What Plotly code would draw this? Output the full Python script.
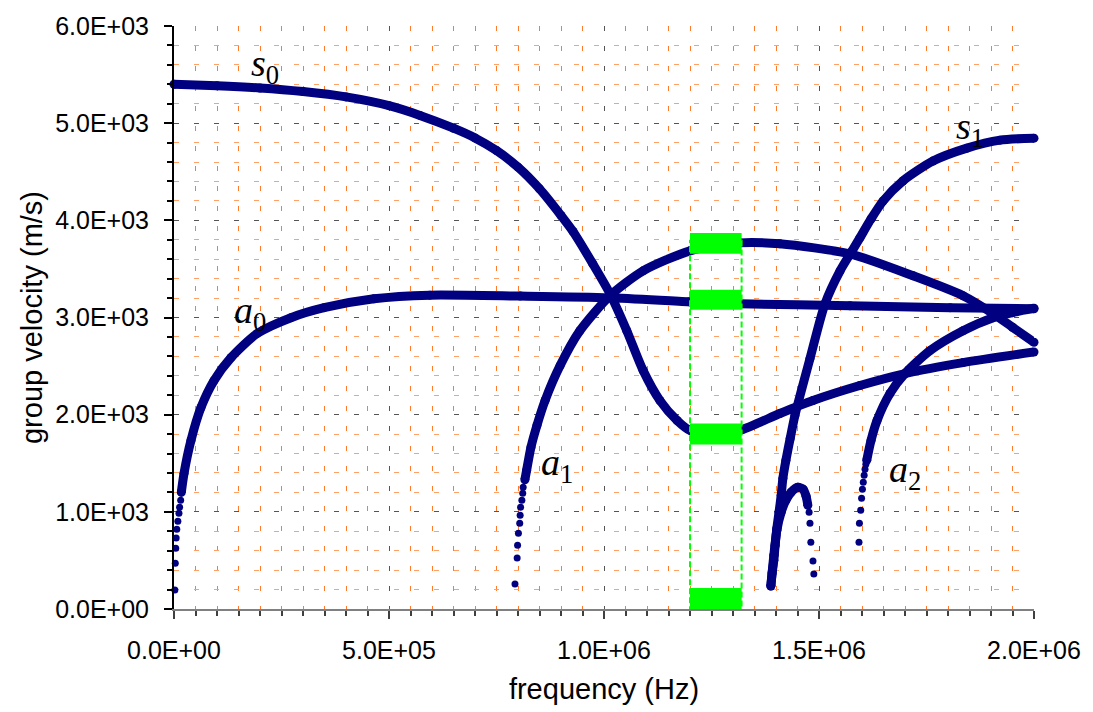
import plotly.graph_objects as go

# ---------------- data (frequency in Hz, group velocity in m/s) ----------------
s0_f = [0, 1.0e5, 2.0e5, 3.0e5, 4.0e5, 5.0e5, 5.72e5, 6.5e5, 7.0e5, 7.5e5, 8.0e5,
        8.5e5, 9.0e5, 9.28e5, 9.74e5, 1.014e6, 1.053e6, 1.091e6, 1.130e6, 1.170e6,
        1.200e6, 1.258e6, 1.316e6, 1.409e6, 1.486e6, 1.595e6, 1.700e6, 1.835e6, 2.0e6]
s0_v = [5400, 5385, 5362, 5325, 5270, 5180, 5080, 4948, 4848, 4718, 4547,
        4324, 4050, 3885, 3552, 3244, 2864, 2454, 2146, 1940,
        1838, 1807, 1838, 2012, 2146, 2300, 2423, 2536, 2645]

a0_dots_f = [2.0e3, 3.0e3, 4.0e3, 5.0e3, 6.5e3, 9.0e3, 1.15e4, 1.3e4, 1.55e4]
a0_dots_v = [195, 472, 626, 730, 821, 904, 986, 1047, 1119]
a0_f = [1.7e4, 2.33e4, 3.95e4, 6.28e4, 9.3e4, 1.326e5, 1.93e5, 2.72e5, 3.49e5,
        4.65e5, 5.95e5, 8.05e5, 1.012e6, 1.198e6, 1.316e6, 1.572e6, 1.805e6, 2.0e6]
a0_v = [1200, 1396, 1735, 2074, 2351, 2587, 2834, 2998, 3101,
        3193, 3230, 3220, 3203, 3162, 3142, 3121, 3101, 3090]

a1_dots_f = [7.93e5, 7.98e5, 7.99e5, 8.01e5, 8.04e5, 8.05e5, 8.06e5, 8.09e5, 8.11e5, 8.12e5]
a1_dots_v = [257, 524, 657, 780, 883, 965, 1047, 1119, 1191, 1253]
a1_f = [8.16e5, 8.2e5, 8.30e5, 8.44e5, 8.63e5, 8.98e5, 9.44e5, 1.014e6, 1.091e6, 1.2e6,
        1.316e6, 1.409e6, 1.572e6, 1.719e6, 1.835e6, 1.905e6, 1.95e6, 2.0e6]
a1_v = [1330, 1427, 1663, 1889, 2146, 2505, 2864, 3224, 3480, 3686,
        3768, 3758, 3655, 3429, 3224, 3039, 2900, 2745]

s1_f = [1.388e6, 1.391e6, 1.395e6, 1.398e6, 1.402e6, 1.407e6, 1.412e6, 1.416e6,
        1.423e6, 1.433e6, 1.444e6, 1.479e6, 1.514e6, 1.549e6, 1.577e6, 1.595e6,
        1.621e6, 1.649e6, 1.695e6, 1.765e6, 1.844e6, 1.921e6, 2.0e6]
s1_v = [236, 370, 503, 657, 832, 996, 1170, 1345,
        1530, 1756, 1992, 2577, 3142, 3480, 3686, 3819,
        4014, 4199, 4405, 4610, 4743, 4825, 4846]

hump_f = [1.388e6, 1.395e6, 1.402e6, 1.412e6, 1.423e6, 1.435e6, 1.451e6, 1.463e6, 1.470e6, 1.474e6]
hump_v = [236, 554, 811, 996, 1119, 1201, 1253, 1232, 1160, 1068]
hump_dots_f = [1.477e6, 1.479e6, 1.481e6, 1.486e6, 1.488e6]
hump_dots_v = [996, 883, 688, 493, 359]

a2_dots_f = [1.593e6, 1.594e6, 1.597e6, 1.599e6, 1.601e6, 1.603e6, 1.605e6, 1.607e6, 1.609e6]
a2_dots_v = [688, 883, 1016, 1140, 1232, 1304, 1376, 1437, 1489]
a2_f = [1.611e6, 1.621e6, 1.635e6, 1.665e6, 1.700e6, 1.758e6, 1.835e6, 1.905e6, 1.95e6, 2.0e6]
a2_v = [1530, 1735, 1940, 2218, 2423, 2659, 2864, 2998, 3050, 3095]

# highlighted window
win_f = [1.2e6, 1.32e6]
win_top = 3790
box_lo = [3655, 3080, 1694, 0]
box_hi = [3870, 3285, 1910, 215]

mode_labels = ["s", "s", "a", "a", "a"]
mode_subs = ["0", "1", "0", "1", "2"]
label_f = [2.12e5, 1.851e6, 1.77e5, 8.9e5, 1.70e6]
label_v = [5585, 4938, 3049, 1478, 1406]

x_ticks = [0, 5e5, 1e6, 1.5e6, 2e6]
x_text = ["0.0E+00", "5.0E+05", "1.0E+06", "1.5E+06", "2.0E+06"]
y_ticks = [0, 1000, 2000, 3000, 4000, 5000, 6000]
y_text = ["0.0E+00", "1.0E+03", "2.0E+03", "3.0E+03", "4.0E+03", "5.0E+03", "6.0E+03"]

NAVY = "#000080"
GREEN = "#00FF00"

fig = go.Figure()

fig.add_shape(type="rect", xref="x", yref="y", x0=win_f[0], x1=win_f[1], y0=0, y1=win_top,
              line=dict(color=GREEN, width=2, dash="6px,3px"), fillcolor="rgba(0,0,0,0)", layer="above")


def dense(f, v):
    fig.add_trace(go.Scatter(x=f, y=v, mode="lines+markers",
                             line=dict(color=NAVY, width=9, shape="spline", smoothing=0.7),
                             marker=dict(color=NAVY, size=9), cliponaxis=False,
                             showlegend=False, hoverinfo="skip"))


def dots(f, v):
    fig.add_trace(go.Scatter(x=f, y=v, mode="markers",
                             marker=dict(color=NAVY, size=7), cliponaxis=False,
                             showlegend=False, hoverinfo="skip"))


dense(s0_f, s0_v)
dots(a0_dots_f, a0_dots_v)
dense(a0_f, a0_v)
dots(a1_dots_f, a1_dots_v)
dense(a1_f, a1_v)
dense(s1_f, s1_v)
dense(hump_f, hump_v)
dots(hump_dots_f, hump_dots_v)
dots(a2_dots_f, a2_dots_v)
dense(a2_f, a2_v)

for lo, hi in zip(box_lo, box_hi):
    fig.add_shape(type="rect", xref="x", yref="y", x0=win_f[0], x1=win_f[1], y0=lo, y1=hi,
                  line=dict(width=0), fillcolor=GREEN, layer="above")

for m, s, fx, vy in zip(mode_labels, mode_subs, label_f, label_v):
    fig.add_annotation(x=fx, y=vy, xref="x", yref="y", showarrow=False,
                       text=f"<i>{m}</i><sub>{s}</sub>",
                       font=dict(family="Liberation Serif, Times New Roman, serif", size=38, color="black"))

grid_dash = "5px,15px"
fig.update_layout(
    width=1093, height=712,
    margin=dict(l=174, r=59, t=24, b=103),
    paper_bgcolor="white", plot_bgcolor="white",
    font=dict(family="Liberation Sans, Arial, sans-serif", size=25, color="black"),
    xaxis=dict(
        range=[0, 2e6], tickmode="array", tickvals=x_ticks, ticktext=x_text,
        ticks="outside", ticklen=8, tickcolor="#404040", tickwidth=1.5,
        showline=True, linecolor="#808080", linewidth=2,
        showgrid=True, gridcolor="#555555", gridwidth=1, griddash=grid_dash,
        zeroline=False, ticklabelstandoff=10,
        minor=dict(tickmode="linear", tick0=0, dtick=5e4, ticks="outside", ticklen=5,
                   tickcolor="#404040", showgrid=True, gridcolor="#FF7A2A",
                   gridwidth=1, griddash=grid_dash),
        title=dict(text="frequency (Hz)", font=dict(size=29), standoff=16),
    ),
    yaxis=dict(
        range=[0, 6000], tickmode="array", tickvals=y_ticks, ticktext=y_text,
        ticks="outside", ticklen=8, tickcolor="black", tickwidth=1.5,
        showline=True, linecolor="black", linewidth=2,
        showgrid=True, gridcolor="#555555", gridwidth=1, griddash=grid_dash,
        zeroline=False, ticklabelstandoff=10,
        minor=dict(tickmode="linear", tick0=0, dtick=200, ticks="outside", ticklen=5,
                   tickcolor="black", showgrid=True, gridcolor="#FFA066",
                   gridwidth=1, griddash=grid_dash),
        title=dict(text="group velocity (m/s)", font=dict(size=29), standoff=4),
    ),
)

fig.write_html("out.html")
